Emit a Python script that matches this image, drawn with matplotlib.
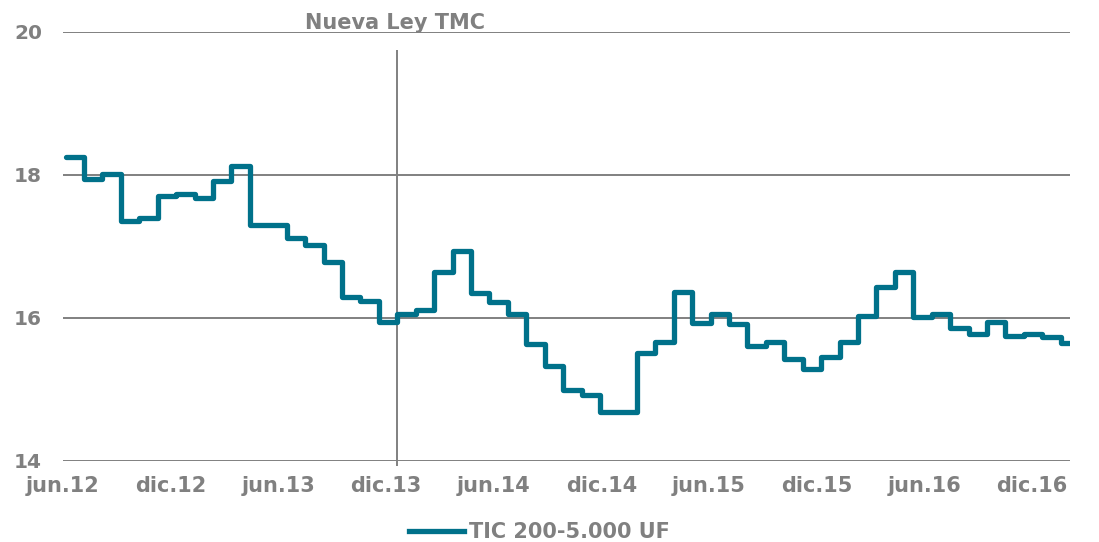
import numpy as np
import matplotlib
matplotlib.use('Agg')
import matplotlib.pyplot as plt

# monthly TIC values, jun.12 .. dic.16
tic = [18.25, 17.95, 18.01, 17.36, 17.40, 17.70, 17.74, 17.68, 17.91, 18.13,
       17.30, 17.30, 17.12, 17.02, 16.79, 16.29, 16.24, 15.95, 16.06, 16.11,
       16.65, 16.94, 16.35, 16.23, 16.06, 15.64, 15.33, 14.99, 14.92, 14.68,
       14.68, 15.51, 15.67, 16.36, 15.93, 16.06, 15.91, 15.61, 15.67, 15.43,
       15.29, 15.45, 15.67, 16.03, 16.44, 16.64, 16.01, 16.06, 15.86, 15.78,
       15.95, 15.75, 15.77, 15.73, 15.65]
tick_labels = ['jun.12', 'dic.12', 'jun.13', 'dic.13', 'jun.14',
               'dic.14', 'jun.15', 'dic.15', 'jun.16', 'dic.16']
event_month = 18  # dic.13
event_label = 'Nueva Ley TMC'
series_name = 'TIC 200-5.000 UF'

teal = '#00718a'
grey = '#808080'

fig = plt.figure(figsize=(10.99, 5.42), dpi=100)
ax = fig.add_axes([63 / 1099, 81 / 542, 1007 / 1099, 429 / 542])

edges = np.arange(len(tic) + 1)
st = ax.stairs(tic, edges, baseline=None, color=teal, linewidth=3.8,
               label=series_name, zorder=3)
st.set_joinstyle('round')
st.set_capstyle('round')

ax.set_xlim(0, 54.5)
ax.set_ylim(14, 20)
ax.set_yticks([14, 16, 18, 20])
for v in [14, 16, 18, 20]:
    ax.axhline(v, color=grey, linewidth=1.4, zorder=1)

ax.set_xticks(np.linspace(-0.14, 52.44, len(tick_labels)))
ax.set_xticklabels(tick_labels)
ax.tick_params(axis='both', length=0, labelcolor=grey)
ax.tick_params(axis='y', pad=15, labelsize=14.5)
ax.tick_params(axis='x', pad=11, labelsize=15)
for lab in ax.get_xticklabels() + ax.get_yticklabels():
    lab.set_fontweight('bold')
for s in ax.spines.values():
    s.set_visible(False)

ax.vlines(event_month, 13.93, 19.75, color=grey, linewidth=1.4,
          clip_on=False, zorder=2)
ax.text(event_month - 0.15, 20.04, event_label, ha='center', va='baseline',
        fontsize=15, fontweight='bold', color=grey)

leg = fig.legend(loc='center', bbox_to_anchor=(0.491, 0.018), frameon=False,
                 handlelength=2.6, handletextpad=0.25,
                 prop={'size': 15, 'weight': 'bold'})
for t in leg.get_texts():
    t.set_color(grey)

fig.savefig('out.png', dpi=100)
